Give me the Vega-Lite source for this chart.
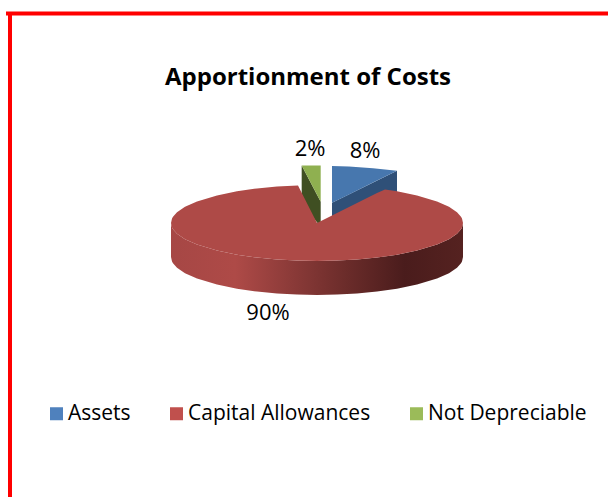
{"$schema":"https://vega.github.io/schema/vega-lite/v6.json","width":608,"height":497,"padding":0,"autosize":{"type":"none"},"background":"white","view":{"stroke":null},
"title":{"text":"Apportionment of Costs","font":"Open Sans","fontSize":24,"fontWeight":"bold","color":"#000000","orient":"top","anchor":"middle","offset":-90,"dx":4},
"datasets":{
"shares":[{"category":"Assets","share":0.08,"labelU":24,"labelV":36},{"category":"Capital Allowances","share":0.90,"labelU":-24.5,"labelV":-45},{"category":"Not Depreciable","share":0.02,"labelU":-3.5,"labelV":37}],
"frame":[{"u":-153.5,"v":104.75,"u2":-153.5,"v2":-137},{"u":-155.5,"v":104.75,"u2":145.5,"v2":104.75}],
"greenSide":[{"u":-7.65,"top":28.75,"bottom":10},{"u":1.85,"top":10.65,"bottom":-2}],
"greenFace":[{"u":-7.65,"top":28.75,"bottom":28.75},{"u":1.85,"top":28.75,"bottom":10.65}],
"blueSide":[{"u":7.5,"top":10.15,"bottom":0},{"u":40,"top":26.15,"bottom":0}],
"blueFace":[{"u":7.5,"top":28.5,"bottom":10.15},{"u":16,"top":28.2,"bottom":14.3},{"u":28,"top":27.4,"bottom":20.2},{"u":40,"top":26.15,"bottom":26.15}],
"redSide":[{"u":-73,"top":0,"bottom":-17},{"u":-72.5,"top":-2.2,"bottom":-19.2},{"u":-72,"top":-3.1,"bottom":-20.1},{"u":-70,"top":-5.4,"bottom":-22.4},{"u":-66,"top":-8.1,"bottom":-25.1},{"u":-60,"top":-10.8,"bottom":-27.8},{"u":-50,"top":-13.8,"bottom":-30.8},{"u":-40,"top":-15.9,"bottom":-32.9},{"u":-30,"top":-17.3,"bottom":-34.3},{"u":-20,"top":-18.3,"bottom":-35.3},{"u":-10,"top":-18.8,"bottom":-35.8},{"u":0,"top":-19,"bottom":-36},{"u":10,"top":-18.8,"bottom":-35.8},{"u":20,"top":-18.3,"bottom":-35.3},{"u":30,"top":-17.3,"bottom":-34.3},{"u":40,"top":-15.9,"bottom":-32.9},{"u":50,"top":-13.8,"bottom":-30.8},{"u":60,"top":-10.8,"bottom":-27.8},{"u":66,"top":-8.1,"bottom":-25.1},{"u":70,"top":-5.4,"bottom":-22.4},{"u":72,"top":-3.1,"bottom":-20.1},{"u":72.5,"top":-2.2,"bottom":-19.2},{"u":73,"top":0,"bottom":-17}],
"redFace":[{"u":-73,"top":0,"bottom":0},{"u":-72.5,"top":2.2,"bottom":-2.2},{"u":-72,"top":3.1,"bottom":-3.1},{"u":-70,"top":5.4,"bottom":-5.4},{"u":-66,"top":8.1,"bottom":-8.1},{"u":-60,"top":10.8,"bottom":-10.8},{"u":-50,"top":13.8,"bottom":-13.8},{"u":-40,"top":15.9,"bottom":-15.9},{"u":-30,"top":17.3,"bottom":-17.3},{"u":-20,"top":18.3,"bottom":-18.3},{"u":-9.5,"top":18.8,"bottom":-18.8},{"u":0,"top":0,"bottom":-19},{"u":10,"top":5,"bottom":-18.8},{"u":20,"top":10,"bottom":-18.3},{"u":30,"top":15,"bottom":-17.3},{"u":34,"top":16.8,"bottom":-16.8},{"u":40,"top":15.9,"bottom":-15.9},{"u":50,"top":13.8,"bottom":-13.8},{"u":60,"top":10.8,"bottom":-10.8},{"u":66,"top":8.1,"bottom":-8.1},{"u":70,"top":5.4,"bottom":-5.4},{"u":72,"top":3.1,"bottom":-3.1},{"u":72.5,"top":2.2,"bottom":-2.2},{"u":73,"top":0,"bottom":0}]
},
"layer":[
{"data":{"name":"shares"},"mark":{"type":"point","filled":true,"shape":"square","opacity":0},"encoding":{"x":{"field":"labelU","type":"quantitative","scale":{"domain":[-158.5,145.5],"nice":false,"zero":false},"axis":null},"y":{"field":"labelV","type":"quantitative","scale":{"domain":[-137,111.5],"nice":false,"zero":false},"axis":null},"color":{"field":"category","type":"nominal","scale":{"domain":["Assets","Capital Allowances","Not Depreciable"],"range":["#4F81BD","#C0504D","#9BBB59"]},"legend":{"title":null,"orient":"none","legendX":46,"legendY":403,"direction":"horizontal","columns":3,"columnPadding":35,"symbolType":"square","symbolSize":169,"symbolOpacity":1,"symbolStrokeWidth":0,"labelFont":"Open Sans","labelFontSize":21,"labelColor":"#000000","labelOffset":1,"labelLimit":300,"padding":0}}}},
{"data":{"name":"frame"},"mark":{"type":"rule","color":"#FF0000","strokeWidth":4},"encoding":{"x":{"field":"u","type":"quantitative"},"y":{"field":"v","type":"quantitative"},"x2":{"field":"u2"},"y2":{"field":"v2"}}},
{"data":{"name":"greenSide"},"mark":{"type":"area","fill":"#3F4F22","orient":"vertical"},"encoding":{"x":{"field":"u","type":"quantitative"},"y":{"field":"top","type":"quantitative"},"y2":{"field":"bottom"}}},
{"data":{"name":"greenFace"},"mark":{"type":"area","fill":"#8FB050","orient":"vertical"},"encoding":{"x":{"field":"u","type":"quantitative"},"y":{"field":"top","type":"quantitative"},"y2":{"field":"bottom"}}},
{"data":{"name":"blueSide"},"mark":{"type":"area","fill":"#2F5078","orient":"vertical"},"encoding":{"x":{"field":"u","type":"quantitative"},"y":{"field":"top","type":"quantitative"},"y2":{"field":"bottom"}}},
{"data":{"name":"blueFace"},"mark":{"type":"area","fill":"#4777AE","orient":"vertical"},"encoding":{"x":{"field":"u","type":"quantitative"},"y":{"field":"top","type":"quantitative"},"y2":{"field":"bottom"}}},
{"data":{"name":"redSide"},"mark":{"type":"area","orient":"vertical","fill":{"gradient":"linear","x1":0,"y1":0,"x2":1,"y2":0,"stops":[{"offset":0,"color":"#A64745"},{"offset":0.22,"color":"#AE4A47"},{"offset":0.42,"color":"#8A3A38"},{"offset":0.6,"color":"#6B2C2A"},{"offset":0.8,"color":"#4A1C1C"},{"offset":1,"color":"#552220"}]}},"encoding":{"x":{"field":"u","type":"quantitative"},"y":{"field":"top","type":"quantitative"},"y2":{"field":"bottom"}}},
{"data":{"name":"redFace"},"mark":{"type":"area","fill":"#AE4A47","orient":"vertical"},"encoding":{"x":{"field":"u","type":"quantitative"},"y":{"field":"top","type":"quantitative"},"y2":{"field":"bottom"}}},
{"data":{"name":"shares"},"mark":{"type":"text","font":"Open Sans","fontSize":22,"color":"#000000"},"encoding":{"x":{"field":"labelU","type":"quantitative"},"y":{"field":"labelV","type":"quantitative"},"text":{"field":"share","type":"quantitative","format":".0%"}}}
]}
